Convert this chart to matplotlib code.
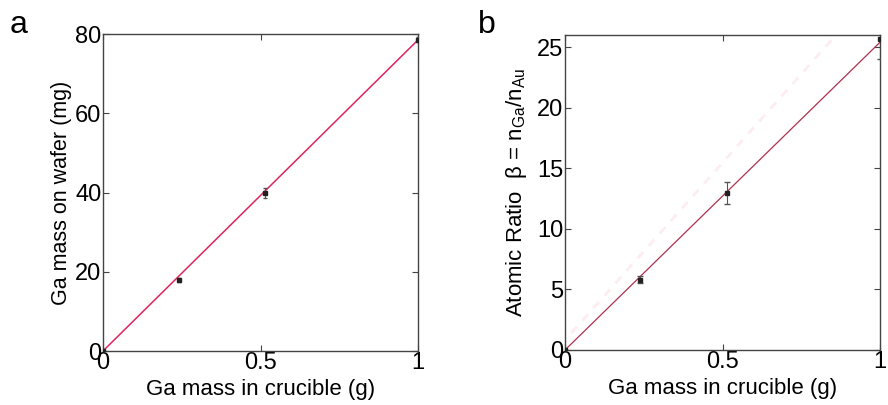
import matplotlib
matplotlib.use("Agg")
import matplotlib.pyplot as plt

plt.rcParams['font.family'] = ['Liberation Sans', 'DejaVu Sans']
plt.rcParams['mathtext.fontset'] = 'custom'
plt.rcParams['mathtext.rm'] = 'Liberation Sans'
plt.rcParams['mathtext.it'] = 'Liberation Sans'

# Panel a data
crucible_mass = [0.0, 0.24, 0.514, 1.0]
wafer_mass = [0.0, 17.9, 39.9, 78.6]
wafer_err = [0.0, 0.6, 1.2, 0.6]
fit_a_x = [0.0, 1.0]
fit_a_y = [0.0, 78.5]

# Panel b data
ratio_x = [0.0, 0.238, 0.513, 1.0]
ratio_beta = [0.0, 5.8, 12.95, 25.7]
ratio_err = [0.0, 0.3, 0.9, 1.7]
fit_b_x = [0.0, 1.0]
fit_b_y = [0.0, 25.4]
ghost_x = [0.02, 0.86]
ghost_y = [1.4, 26.0]

fig = plt.figure(figsize=(8.88, 4.05), dpi=100)
W, H = 888, 405
axa = fig.add_axes([103 / W, 1 - 351 / H, 315 / W, 317 / H])
axb = fig.add_axes([565 / W, 1 - 350 / H, 315 / W, 315 / H])

frame_col = '#444444'
for ax in (axa, axb):
    for s in ax.spines.values():
        s.set_color(frame_col)
        s.set_linewidth(1.0)
    ax.tick_params(direction='in', top=True, right=True, length=4, width=0.8,
                   color=frame_col, labelsize=17, pad=1)
    ax.set_xlim(0, 1)
    ax.set_xticks([0, 0.5, 1])
    ax.set_xticklabels(['0', '0.5', '1'])

# Panel a
axa.plot(fit_a_x, fit_a_y, color='#e0245e', lw=1.1, zorder=2)
axa.errorbar(crucible_mass, wafer_mass, yerr=wafer_err, fmt='s', ms=3.5,
             color='#222222', ecolor='#555555', elinewidth=0.8, capsize=1.5,
             zorder=3, clip_on=True)
axa.set_ylim(0, 80)
axa.set_yticks([0, 20, 40, 60, 80])
axa.set_xlabel('Ga mass in crucible (g)', fontsize=16, labelpad=3)
axa.set_ylabel('Ga mass on wafer (mg)', fontsize=15.5, labelpad=2)

# Panel b
axb.plot(ghost_x, ghost_y, color='#fbd5df', lw=2.0, ls=(0, (3, 3)), alpha=0.45, zorder=1)
axb.plot(fit_b_x, fit_b_y, color='#b03050', lw=0.9, zorder=2)
axb.errorbar(ratio_x, ratio_beta, yerr=ratio_err, fmt='s', ms=3.5,
             color='#222222', ecolor='#555555', elinewidth=0.8, capsize=2,
             zorder=3)
axb.set_ylim(0, 26)
axb.set_yticks([0, 5, 10, 15, 20, 25])
axb.set_xlabel('Ga mass in crucible (g)', fontsize=16, labelpad=3)
axb.set_ylabel(r'Atomic Ratio  β = n$_{\mathrm{Ga}}$/n$_{\mathrm{Au}}$', fontsize=16, labelpad=6)

fig.text(10 / W, 1 - 33 / H, 'a', fontsize=23)
fig.text(478 / W, 1 - 33 / H, 'b', fontsize=23)

fig.savefig('out.png', dpi=100)
